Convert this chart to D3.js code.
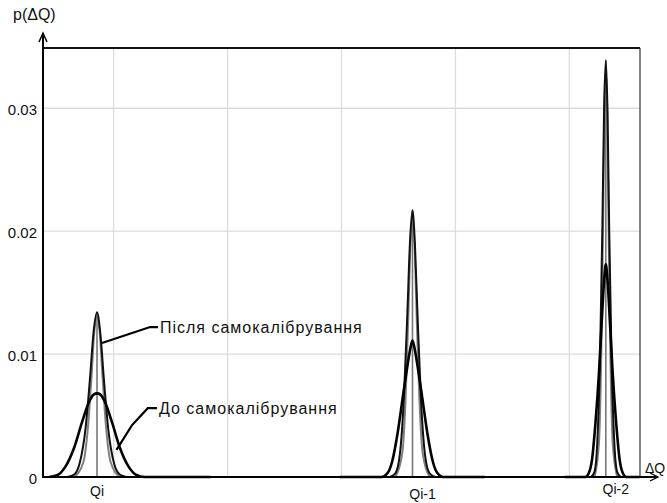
<!DOCTYPE html>
<html>
<head>
<meta charset="utf-8">
<script src="https://cdn.jsdelivr.net/npm/d3@7"></script>
<style>
  body { margin: 0; background: #fff; }
  svg text { font-family: Arial, "Liberation Sans", sans-serif; fill: #111; }
</style>
</head>
<body>
<svg id="chart" width="667" height="503"></svg>
<script>
// ---- data (x in grid divisions of ΔQ, y = p(ΔQ)) ----
var yTicks = [0, 0.01, 0.02, 0.03];
var gridX = [0.62, 1.62, 2.62, 3.62, 4.62];

var peakNames = ["Qi", "Qi-1", "Qi-2"];
var peakCenters = [0.474, 3.243, 4.94];
var peakTops = [0.0134, 0.0217, 0.0339];

// after self-calibration (black)
var qiAfterX = [0.214, 0.274, 0.324, 0.374, 0.414, 0.444, 0.474, 0.504, 0.534, 0.574, 0.624, 0.674, 0.734];
var qiAfterP = [0, 0.0002, 0.0012, 0.0040, 0.0082, 0.0118, 0.0134, 0.0116, 0.0080, 0.0038, 0.0011, 0.0002, 0];
var qi1AfterX = [3.043, 3.093, 3.133, 3.168, 3.198, 3.221, 3.243, 3.265, 3.288, 3.318, 3.353, 3.393, 3.443];
var qi1AfterP = [0, 0.0003, 0.0019, 0.0065, 0.0133, 0.0191, 0.0217, 0.0188, 0.0130, 0.0062, 0.0018, 0.0003, 0];
var qi2AfterX = [4.81, 4.84, 4.865, 4.89, 4.91, 4.925, 4.94, 4.955, 4.97, 4.99, 5.015, 5.04, 5.07];
var qi2AfterP = [0, 0.0004, 0.0028, 0.0100, 0.0205, 0.0300, 0.0339, 0.0296, 0.0200, 0.0097, 0.0027, 0.0004, 0];

// after self-calibration, second (grey) trace
var qiGreyX = [0.274, 0.354, 0.394, 0.426, 0.450, 0.474, 0.498, 0.522, 0.554, 0.594, 0.674];
var qiGreyP = [0, 0.0012, 0.0040, 0.0082, 0.0118, 0.0130, 0.0118, 0.0082, 0.0040, 0.0012, 0];
var qi1GreyX = [3.093, 3.153, 3.183, 3.207, 3.225, 3.243, 3.261, 3.279, 3.303, 3.333, 3.393];
var qi1GreyP = [0, 0.0019, 0.0065, 0.0133, 0.0190, 0.0210, 0.0190, 0.0133, 0.0065, 0.0019, 0];
var qi2GreyX = [4.84, 4.88, 4.90, 4.916, 4.928, 4.94, 4.952, 4.964, 4.98, 5.0, 5.04];
var qi2GreyP = [0, 0.0028, 0.0100, 0.0205, 0.0300, 0.0330, 0.0300, 0.0205, 0.0100, 0.0028, 0];

// before self-calibration (black, wider)
var qiBeforeX = [0.054, 0.134, 0.194, 0.274, 0.344, 0.404, 0.444, 0.474, 0.504, 0.544, 0.604, 0.674, 0.754, 0.814, 0.894, 1.47];
var qiBeforeP = [0, 0.0002, 0.0008, 0.0024, 0.0045, 0.0061, 0.0067, 0.0068, 0.0067, 0.0061, 0.0045, 0.0024, 0.0008, 0.0002, 0, 0];
var qi1BeforeX = [2.605, 2.973, 3.023, 3.063, 3.113, 3.158, 3.198, 3.223, 3.243, 3.263, 3.288, 3.328, 3.373, 3.423, 3.463, 3.513, 3.877];
var qi1BeforeP = [0, 0, 0.0003, 0.0012, 0.0036, 0.0065, 0.0090, 0.0104, 0.0111, 0.0104, 0.0090, 0.0065, 0.0036, 0.0012, 0.0003, 0, 0];
var qi2BeforeX = [4.579, 4.76, 4.79, 4.82, 4.85, 4.88, 4.905, 4.925, 4.94, 4.955, 4.975, 5.0, 5.03, 5.06, 5.09, 5.12, 5.237];
var qi2BeforeP = [0, 0, 0.0003, 0.0015, 0.0045, 0.0085, 0.0128, 0.0160, 0.0173, 0.0160, 0.0128, 0.0085, 0.0045, 0.0015, 0.0003, 0, 0];

// annotations
var noteAfter = "Після самокалібрування";
var noteBefore = "До самокалібрування";
var leaderAfterX = [0.518, 0.94, 1.009];
var leaderAfterP = [0.0109, 0.0122, 0.0122];
var leaderBeforeX = [0.645, 0.78, 0.92, 1.0];
var leaderBeforeP = [0.0022, 0.0042, 0.0056, 0.0056];

// ---- layout ----
var margin = {top: 48, right: 27, bottom: 26, left: 43},
    width = 667 - margin.left - margin.right,
    height = 503 - margin.top - margin.bottom;

var svg = d3.select("#chart");

var x = d3.scaleLinear().domain([0, 5.24]).range([margin.left, margin.left + width]);
var y = d3.scaleLinear().domain([0, 0.0349]).range([margin.top + height, margin.top]);

function zip(xs, ps) {
    return xs.map(function (v, i) { return [v, ps[i]]; });
}

// grid
svg.append("g")
    .selectAll("line")
    .data(yTicks.slice(1))
    .enter().append("line")
    .attr("x1", x(0)).attr("x2", x(5.24))
    .attr("y1", function (d) { return y(d); })
    .attr("y2", function (d) { return y(d); })
    .style("stroke", "#dcdcdc").style("stroke-width", 1.3);

svg.append("g")
    .selectAll("line")
    .data(gridX)
    .enter().append("line")
    .attr("x1", function (d) { return x(d); })
    .attr("x2", function (d) { return x(d); })
    .attr("y1", y(0)).attr("y2", y(0.0349))
    .style("stroke", "#dcdcdc").style("stroke-width", 1.3);

// frame (top + right)
svg.append("line")
    .attr("x1", x(0)).attr("x2", x(5.24)).attr("y1", y(0.0349)).attr("y2", y(0.0349))
    .style("stroke", "#111").style("stroke-width", 2);
svg.append("line")
    .attr("x1", x(5.24)).attr("x2", x(5.24)).attr("y1", y(0.0349)).attr("y2", y(0))
    .style("stroke", "#333").style("stroke-width", 1.2);

// y axis labels
var yAxis = svg.append("g")
    .attr("transform", "translate(" + (x(0) - 6) + ",0)")
    .call(d3.axisLeft(y).tickValues(yTicks).tickSize(0).tickPadding(0)
        .tickFormat(function (d) { return d === 0 ? "0" : d3.format(".2f")(d); }));
yAxis.select(".domain").remove();
yAxis.selectAll("text").style("font-size", "15px").attr("dy", "0.4em");

// centre lines
svg.append("g")
    .selectAll("line")
    .data(peakCenters)
    .enter().append("line")
    .attr("x1", function (d) { return x(d); })
    .attr("x2", function (d) { return x(d); })
    .attr("y1", y(0))
    .attr("y2", function (d, i) { return y(peakTops[i]); })
    .style("stroke", "#777").style("stroke-width", 1.6);

var line = d3.line()
    .x(function (d) { return x(d[0]); })
    .y(function (d) { return y(d[1]); })
    .curve(d3.curveMonotoneX);

var greyCurves = [zip(qiGreyX, qiGreyP), zip(qi1GreyX, qi1GreyP), zip(qi2GreyX, qi2GreyP)];
var afterCurves = [zip(qiAfterX, qiAfterP), zip(qi1AfterX, qi1AfterP), zip(qi2AfterX, qi2AfterP)];
var beforeCurves = [zip(qiBeforeX, qiBeforeP), zip(qi1BeforeX, qi1BeforeP), zip(qi2BeforeX, qi2BeforeP)];

svg.append("g").selectAll("path").data(greyCurves).enter().append("path")
    .attr("d", line).style("fill", "none").style("stroke", "#808080").style("stroke-width", 2);
svg.append("g").selectAll("path").data(afterCurves).enter().append("path")
    .attr("d", line).style("fill", "none").style("stroke", "#111").style("stroke-width", 2);
svg.append("g").selectAll("path").data(beforeCurves).enter().append("path")
    .attr("d", line).style("fill", "none").style("stroke", "#000").style("stroke-width", 2.6);

// axes with arrows
var x0 = x(0), y0 = y(0);
svg.append("line").attr("x1", x0).attr("x2", x0).attr("y1", y0 + 1).attr("y2", 33)
    .style("stroke", "#000").style("stroke-width", 2);
svg.append("path").attr("d", "M" + (x0 - 4) + ",42 L" + x0 + ",33 L" + (x0 + 4) + ",42")
    .style("fill", "none").style("stroke", "#000").style("stroke-width", 1.5);
svg.append("line").attr("x1", x0).attr("x2", 658).attr("y1", y0).attr("y2", y0)
    .style("stroke", "#000").style("stroke-width", 2.2);
svg.append("path").attr("d", "M650," + (y0 - 4) + " L658," + y0 + " L650," + (y0 + 4))
    .style("fill", "none").style("stroke", "#000").style("stroke-width", 1.3);

svg.append("text").attr("x", 13).attr("y", 20).style("font-size", "16px").text("p(ΔQ)");
svg.append("text").attr("x", 645).attr("y", 473).style("font-size", "14px").text("ΔQ");

// peak labels
var labelDy = [19, 22, 17];
svg.append("g").selectAll("text").data(peakNames).enter().append("text")
    .attr("x", function (d, i) { return x(peakCenters[i]) + (i === 0 ? 0 : 10); })
    .attr("y", function (d, i) { return y0 + labelDy[i]; })
    .attr("text-anchor", "middle")
    .style("font-size", "14px")
    .text(function (d) { return d; });

// annotations
var lead = d3.line().x(function (d) { return x(d[0]); }).y(function (d) { return y(d[1]); });
svg.append("path").datum(zip(leaderAfterX, leaderAfterP)).attr("d", lead)
    .style("fill", "none").style("stroke", "#000").style("stroke-width", 2.2);
svg.append("path").datum(zip(leaderBeforeX, leaderBeforeP)).attr("d", lead)
    .style("fill", "none").style("stroke", "#000").style("stroke-width", 2.2);

svg.append("text").attr("x", x(1.026)).attr("y", y(0.0122) + 6)
    .style("font-size", "16px").style("letter-spacing", "1px").text(noteAfter);
svg.append("text").attr("x", x(1.018)).attr("y", y(0.0056) + 6)
    .style("font-size", "16px").style("letter-spacing", "1px").text(noteBefore);
</script>
</body>
</html>
